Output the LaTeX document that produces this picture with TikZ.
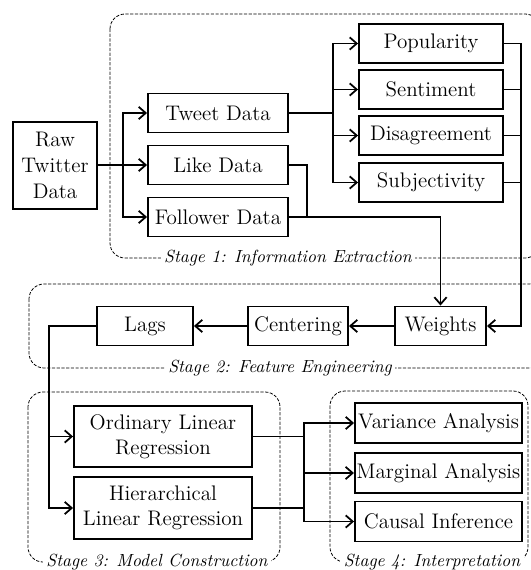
\documentclass[tikz,border=0pt]{standalone}
\usepackage{amsmath}
\usetikzlibrary{arrows.meta}

\tikzset{
  box/.style={draw, line width=1.1pt, minimum height=0.78cm, inner sep=1pt,
    font=\fontsize{12}{14}\selectfont, align=center},
  stagebox/.style={draw, line width=0.45pt, dash pattern=on 1.8pt off 0.9pt, rounded corners=0.3cm},
  stagelabel/.style={fill=white, inner sep=2pt, font=\fontsize{10}{12}\selectfont\itshape},
  link/.style={line width=1pt},
  >={Straight Barb[length=4pt,width=7pt]}
}

\begin{document}
\begin{tikzpicture}[x=0.02cm, y=-0.02cm]
				\useasboundingbox (0,0) rectangle (530,570);
				
				% Cajas de las etapas
				\draw[stagebox] (110,14) rectangle (540,258);
				\node[stagelabel] (st1) at (288,258) {Stage 1: Information Extraction};
				\draw[stagebox] (29,284) rectangle (545,368);
				\node[stagelabel] (st2) at (280,368) {Stage 2: Feature Engineering};
				\draw[stagebox] (28,392) rectangle (280,562);
				\node[stagelabel] (st3) at (157,562) {Stage 3: Model Construction};
				\draw[stagebox] (330,391) rectangle (528,562);
				\node[stagelabel] (st4) at (432,562) {Stage 4: Interpretation};
				
				% Datos
				\node[box, minimum width=1.68cm, minimum height=1.74cm,
				  font=\fontsize{12}{15}\selectfont] (raw) at (55,165.5) {Raw\\Twitter\\Data};
				\node[box, minimum width=2.8cm] (tweet) at (218,113) {Tweet Data};
				\node[box, minimum width=2.8cm] (like) at (218,165) {Like Data};
				\node[box, minimum width=2.8cm] (follower) at (218,217) {Follower Data};
				
				% Medidas
				\node[box, minimum width=2.88cm] (popularity) at (431,43.5) {Popularity};
				\node[box, minimum width=2.88cm] (sentiment) at (431,89.5) {Sentiment};
				\node[box, minimum width=2.88cm] (disagreement) at (431,135.5) {Disagreement};
				\node[box, minimum width=2.88cm] (subjectivity) at (431,182.5) {Subjectivity};
				
				% Etapa 2
				\node[box, minimum width=1.92cm] (lags) at (145,326) {Lags};
				\node[box, minimum width=2.0cm] (centering) at (298,326) {Centering};
				\node[box, minimum width=1.82cm] (weights) at (440.5,326) {Weights};
				
				% Etapa 3
				\node[box, minimum width=3.56cm, minimum height=1.23cm] (olr) at (163,436.5) {Ordinary Linear\\Regression};
				\node[box, minimum width=3.56cm, minimum height=1.23cm] (hlr) at (163,508) {Hierarchical\\Linear Regression};
				
				% Etapa 4
				\node[box, minimum width=3.34cm, minimum height=0.8cm] (variance) at (438.5,423) {Variance Analysis};
				\node[box, minimum width=3.34cm, minimum height=0.8cm] (marginal) at (438.5,473) {Marginal Analysis};
				\node[box, minimum width=3.34cm, minimum height=0.8cm] (causal) at (438.5,521.5) {Causal Inference};
				
				% Puntos de ramificación
				\coordinate (s1) at (123,165);
				\coordinate (s2) at (333,113);
				\coordinate (j1) at (307,217);
				\coordinate (r1) at (521,326);
				\coordinate (s3) at (49,436.5);
				\coordinate (s4) at (304,473);
				
				% Conectores
				\draw[link,->] (raw.east |- like) -- (like.west);
				\draw[link,->] (s1) |- (tweet.west);
				\draw[link,->] (s1) |- (follower.west);
				\draw[link] (tweet.east) -- (s2);
				\foreach \n in {popularity,sentiment,disagreement,subjectivity}
				  \draw[link,->] (s2) |- (\n.west);
				\draw[link,->] (popularity.east) -| (r1) -- (weights.east);
				\foreach \n in {sentiment,disagreement,subjectivity}
				  \draw[link] (\n.east) -- (\n.east -| r1);
				\draw[link] (like.east) -| (j1);
				\draw[link,->] (follower.east) -| (weights.north);
				\draw[link,->] (weights) -- (centering);
				\draw[link,->] (centering) -- (lags);
				\draw[link,->] (lags.west) -| (s3 |- hlr) -- (hlr.west);
				\draw[link,->] (s3) -- (olr.west);
				\draw[line width=0.6pt] (olr.east) -- (olr.east -| s4);
				\draw[link] (hlr.east) -- (hlr.east -| s4);
				\draw[link,->] (s4) |- (variance.west);
				\draw[link,->] (s4) -- (marginal.west);
				\draw[link,->] (s4) |- (causal.west);
			\end{tikzpicture}
\end{document}
